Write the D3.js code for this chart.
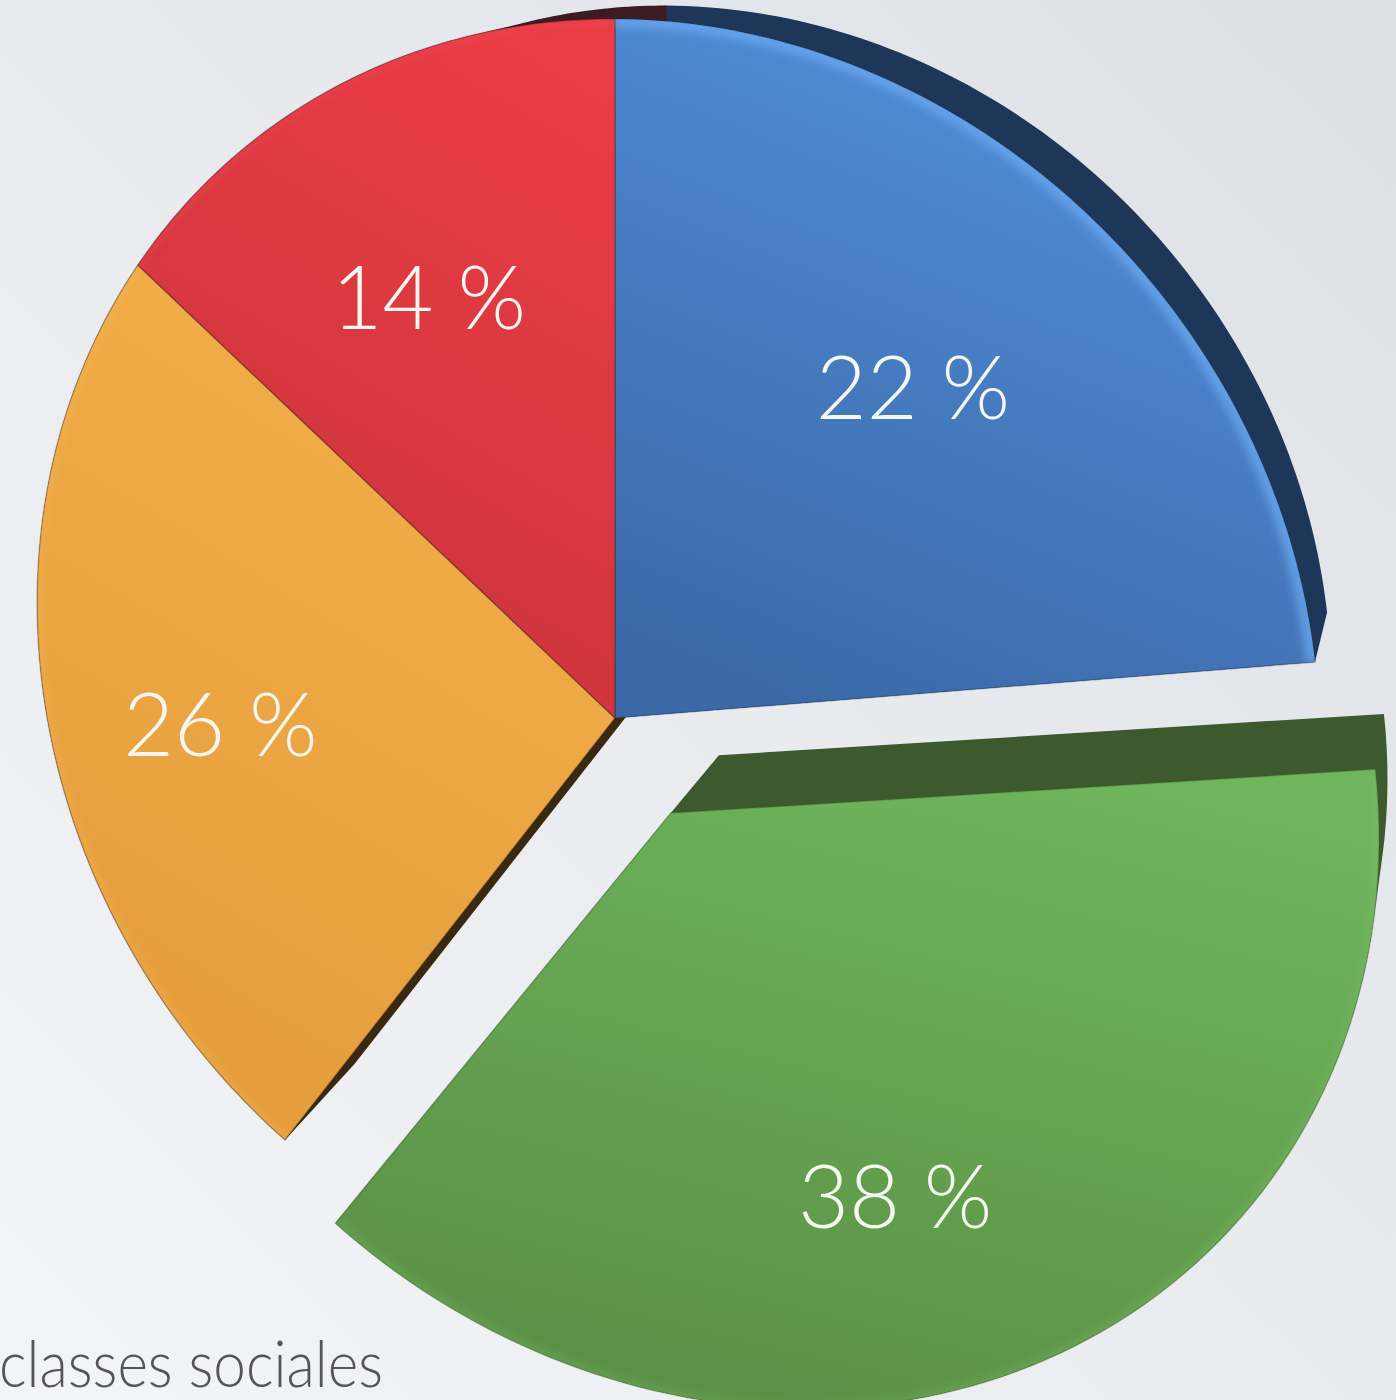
<!DOCTYPE html>
<html lang="fr">
<head>
<meta charset="UTF-8">
<title>classes sociales</title>
<script src="https://cdn.jsdelivr.net/npm/d3@7"></script>
<style>
    html, body { margin: 0; padding: 0; overflow: hidden; }
    body { width: 1396px; height: 1400px; }
    text { font-family: "Lato", "Open Sans", sans-serif; font-weight: 300; }
</style>
</head>
<body>
<div id="vis"></div>
<script>
// data
const slices = ["bleu", "vert", "orange", "rouge"];
const values = [22, 38, 26, 14];
const exploded = [0, 0.165, 0, 0];
const caption = "classes sociales";

// styles
const faceColors = {
    bleu:   ["#5290dc", "#3b69a8"],
    vert:   ["#6fb55c", "#5a8f45"],
    orange: ["#f3b04a", "#e49c3c"],
    rouge:  ["#ea3d46", "#c8333a"]
};
const sideColors = { bleu: "#1e3657", vert: "#3c5a2e", orange: "#3a2810", rouge: "#3e1a22" };
const rimColors = { bleu: "#6aa8f0", vert: "#7cc266", orange: "#f6bb5a", rouge: "#ef4a52" };

const width = 1396, height = 1400;

// perspective of the pie plane (unit circle -> screen), fitted on 4 points of the picture
const deg = Math.PI / 180;
const unit = a => [Math.sin(a), -Math.cos(a)];
const anchors = [
    [[0, 0], [615, 718]],
    [unit(0), [615, 19]],
    [unit(79.2 * deg), [1315, 662]],
    [unit(216 * deg), [285, 1140]]
];
// thickness: back face pulled toward a vanishing point
const vanish = [1530, -220], depth = 0.056;
const labelRadius = 0.675;

function solveH(pairs) {
    const A = [], b = [];
    pairs.forEach(([[u, v], [x, y]]) => {
        A.push([u, v, 1, 0, 0, 0, -u * x, -v * x]); b.push(x);
        A.push([0, 0, 0, u, v, 1, -u * y, -v * y]); b.push(y);
    });
    const n = 8;
    for (let i = 0; i < n; i++) {
        let p = i;
        for (let r = i + 1; r < n; r++) if (Math.abs(A[r][i]) > Math.abs(A[p][i])) p = r;
        [A[i], A[p]] = [A[p], A[i]]; [b[i], b[p]] = [b[p], b[i]];
        for (let r = i + 1; r < n; r++) {
            const f = A[r][i] / A[i][i];
            for (let c = i; c < n; c++) A[r][c] -= f * A[i][c];
            b[r] -= f * b[i];
        }
    }
    const h = new Array(n);
    for (let i = n - 1; i >= 0; i--) {
        let s = b[i];
        for (let c = i + 1; c < n; c++) s -= A[i][c] * h[c];
        h[i] = s / A[i][i];
    }
    return h;
}
const H = solveH(anchors);
function project([u, v]) {
    const w = H[6] * u + H[7] * v + 1;
    return [(H[0] * u + H[1] * v + H[2]) / w, (H[3] * u + H[4] * v + H[5]) / w];
}
const toBack = p => [p[0] + depth * (vanish[0] - p[0]), p[1] + depth * (vanish[1] - p[1])];

const pie = d3.pie().sort(null).value(d => d.value);
const arcs = pie(slices.map((s, i) => ({ key: s, value: values[i], explode: exploded[i] })));

function offsetOf(d) {
    const mid = (d.startAngle + d.endAngle) / 2;
    return unit(mid).map(c => c * d.data.explode);
}
function arcPoints(d) {
    const o = offsetOf(d);
    const pts = [];
    const n = 90;
    for (let k = 0; k <= n; k++) {
        const a = d.startAngle + (d.endAngle - d.startAngle) * k / n;
        const u = unit(a);
        pts.push([o[0] + u[0], o[1] + u[1]]);
    }
    return pts.map(project);
}
const facePoints = d => [project(offsetOf(d))].concat(arcPoints(d));

const svg = d3.select("#vis").append("svg")
    .attr("width", width)
    .attr("height", height);

const defs = svg.append("defs");
const bg = defs.append("linearGradient").attr("id", "bg")
    .attr("x1", 1).attr("y1", 0).attr("x2", 0).attr("y2", 1);
bg.append("stop").attr("offset", 0).attr("stop-color", "#dce0e5");
bg.append("stop").attr("offset", 0.5).attr("stop-color", "#e9ebef");
bg.append("stop").attr("offset", 1).attr("stop-color", "#f3f4f8");

slices.forEach(s => {
    const g = defs.append("linearGradient").attr("id", "face-" + s)
        .attr("x1", 0.7).attr("y1", 0).attr("x2", 0.3).attr("y2", 1);
    g.append("stop").attr("offset", 0).attr("stop-color", faceColors[s][0]);
    g.append("stop").attr("offset", 1).attr("stop-color", faceColors[s][1]);
});

defs.append("filter").attr("id", "soft")
    .append("feGaussianBlur").attr("stdDeviation", 4);

arcs.forEach(d => {
    defs.append("clipPath").attr("id", "clip-" + d.data.key)
        .append("path").attr("d", d3.line().curve(d3.curveLinearClosed)(facePoints(d)));
});

svg.append("rect").attr("width", width).attr("height", height).attr("fill", "url(#bg)");

const closed = d3.line().curve(d3.curveLinearClosed);
const open = d3.line();

// sides (visible thickness)
svg.append("g").selectAll("path")
    .data(arcs)
    .join("path")
    .attr("d", d => {
        const face = facePoints(d);
        return closed(d3.polygonHull(face.concat(face.map(toBack))));
    })
    .attr("fill", d => sideColors[d.data.key]);

// faces
svg.append("g").selectAll("path")
    .data(arcs)
    .join("path")
    .attr("d", d => closed(facePoints(d)))
    .attr("fill", d => "url(#face-" + d.data.key + ")")
    .attr("stroke", d => sideColors[d.data.key])
    .attr("stroke-opacity", 0.35)
    .attr("stroke-width", 1.5);

// soft bevel along the outer edge
svg.append("g").selectAll("g")
    .data(arcs)
    .join("g")
    .attr("clip-path", d => "url(#clip-" + d.data.key + ")")
    .append("path")
    .attr("d", d => open(arcPoints(d)))
    .attr("filter", "url(#soft)")
    .attr("fill", "none")
    .attr("stroke", d => rimColors[d.data.key])
    .attr("stroke-width", d => d.data.key === "bleu" ? 18 : 8)
    .attr("stroke-opacity", d => d.data.key === "bleu" ? 0.75 : 0.35);

// labels
svg.append("g").selectAll("text")
    .data(arcs)
    .join("text")
    .attr("transform", d => {
        const o = offsetOf(d);
        const u = unit((d.startAngle + d.endAngle) / 2);
        const p = project([o[0] + u[0] * labelRadius, o[1] + u[1] * labelRadius]);
        return "translate(" + p[0] + "," + p[1] + ")";
    })
    .attr("text-anchor", "middle")
    .attr("dy", "0.36em")
    .attr("font-size", 88)
    .attr("fill", "#f7f7f2")
    .text(d => d.data.value + " %");

svg.append("text")
    .attr("x", -1)
    .attr("y", 1387)
    .attr("font-size", 66)
    .attr("textLength", 384)
    .attr("lengthAdjust", "spacingAndGlyphs")
    .attr("fill", "#555555")
    .text(caption);
</script>
</body>
</html>
